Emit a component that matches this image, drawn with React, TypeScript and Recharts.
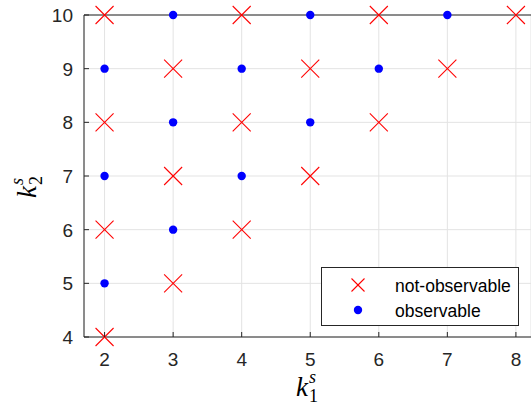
import React from 'react'
import { ScatterChart, Scatter, XAxis, YAxis, CartesianGrid, ReferenceLine, Legend } from 'recharts'

const X_TICKS = [2, 3, 4, 5, 6, 7, 8]
const Y_TICKS = [4, 5, 6, 7, 8, 9, 10]

// not-observable points (red crosses)
const NOT_OBS_K1 = [2, 4, 6, 8, 3, 5, 7, 2, 4, 6, 3, 5, 2, 4, 3, 2]
const NOT_OBS_K2 = [10, 10, 10, 10, 9, 9, 9, 8, 8, 8, 7, 7, 6, 6, 5, 4]

// observable points (blue dots)
const OBS_K1 = [3, 5, 7, 2, 4, 6, 3, 5, 2, 4, 3, 2]
const OBS_K2 = [10, 10, 10, 9, 9, 9, 8, 8, 7, 7, 6, 5]

const notObsData = NOT_OBS_K1.map((k1, i) => ({ k1, k2: NOT_OBS_K2[i] }))
const obsData = OBS_K1.map((k1, i) => ({ k1, k2: OBS_K2[i] }))

const AXIS = '#262626'
const GRID = '#e3e3e3'
const TICK_FONT = '"Liberation Sans", Arial, sans-serif'
const MATH_FONT = '"Liberation Serif", "Times New Roman", serif'

const RED = '#ff0000'
const BLUE = '#0000ff'

function Cross({ cx, cy, half = 9 }: any) {
  return (
    <g>
      <line x1={cx - half} y1={cy - half} x2={cx + half} y2={cy + half} stroke={RED} strokeWidth={1.1} />
      <line x1={cx - half} y1={cy + half} x2={cx + half} y2={cy - half} stroke={RED} strokeWidth={1.1} />
    </g>
  )
}

function Dot({ cx, cy }: any) {
  return <circle cx={cx} cy={cy} r={4.2} fill={BLUE} />
}

function XTick({ x, y, payload }: any) {
  return (
    <g>
      <line x1={x} y1={y} x2={x} y2={y - 5} stroke={AXIS} strokeWidth={1} />
      <text x={x} y={y + 29} textAnchor="middle" fontSize={19} fill={AXIS} fontFamily={TICK_FONT}>
        {payload.value}
      </text>
    </g>
  )
}

function YTick({ x, y, payload }: any) {
  return (
    <g>
      <line x1={x} y1={y} x2={x + 5} y2={y} stroke={AXIS} strokeWidth={1} />
      <text x={x - 11} y={y + 7} textAnchor="end" fontSize={19} fill={AXIS} fontFamily={TICK_FONT}>
        {payload.value}
      </text>
    </g>
  )
}

function LegendBox() {
  return (
    <svg width={198} height={59} style={{ display: 'block' }}>
      <rect x={0.5} y={0.5} width={197} height={58} fill="#fff" stroke={AXIS} strokeWidth={1} />
      <Cross cx={37} cy={18} half={6.5} />
      <text x={74} y={24.5} fontSize={17.5} fill="#000" fontFamily={TICK_FONT}>not-observable</text>
      <Dot cx={37} cy={43} />
      <text x={74} y={49.5} fontSize={17.5} fill="#000" fontFamily={TICK_FONT}>observable</text>
    </svg>
  )
}

export default function App() {
  return (
    <div style={{ position: 'absolute', left: 0, top: 0, width: 531, height: 411, overflow: 'hidden', background: '#fff' }}>
      <ScatterChart width={531} height={411} margin={{ top: 15, right: 0, bottom: 0, left: 0 }}>
        <CartesianGrid stroke={GRID} strokeWidth={1} />
        <XAxis
          type="number"
          dataKey="k1"
          domain={[1.7, 8.22]}
          ticks={X_TICKS}
          height={74}
          tickSize={0}
          tickMargin={0}
          tick={<XTick />}
          axisLine={{ stroke: AXIS, strokeWidth: 1 }}
        />
        <YAxis
          type="number"
          dataKey="k2"
          domain={[4, 10]}
          ticks={Y_TICKS}
          width={84}
          tickSize={0}
          tickMargin={0}
          tick={<YTick />}
          axisLine={{ stroke: AXIS, strokeWidth: 1 }}
        />
        <ReferenceLine y={10} stroke={AXIS} strokeWidth={1} />
        <Legend
          layout="vertical"
          align="center"
          verticalAlign="middle"
          wrapperStyle={{ position: 'absolute', left: 321, top: 267, width: 198, height: 59 }}
          content={() => <LegendBox />}
        />
        <Scatter name="not-observable" data={notObsData} shape={<Cross />} isAnimationActive={false} />
        <Scatter name="observable" data={obsData} shape={<Dot />} isAnimationActive={false} />
      </ScatterChart>
      <svg width={531} height={411} style={{ position: 'absolute', left: 0, top: 0, pointerEvents: 'none' }}>
        <text x={296} y={396} fontFamily={MATH_FONT} fill="#000">
          <tspan fontSize={27} fontStyle="italic">k</tspan>
          <tspan fontSize={18} fontStyle="italic" dx={1} dy={-13}>s</tspan>
          <tspan fontSize={18} dx={-7} dy={19}>1</tspan>
        </text>
        <text x={0} y={0} fontFamily={MATH_FONT} fill="#000" transform="translate(36 198) rotate(-90)">
          <tspan fontSize={27} fontStyle="italic">k</tspan>
          <tspan fontSize={18} fontStyle="italic" dx={1} dy={-13}>s</tspan>
          <tspan fontSize={18} dx={-7} dy={19}>2</tspan>
        </text>
      </svg>
    </div>
  )
}
